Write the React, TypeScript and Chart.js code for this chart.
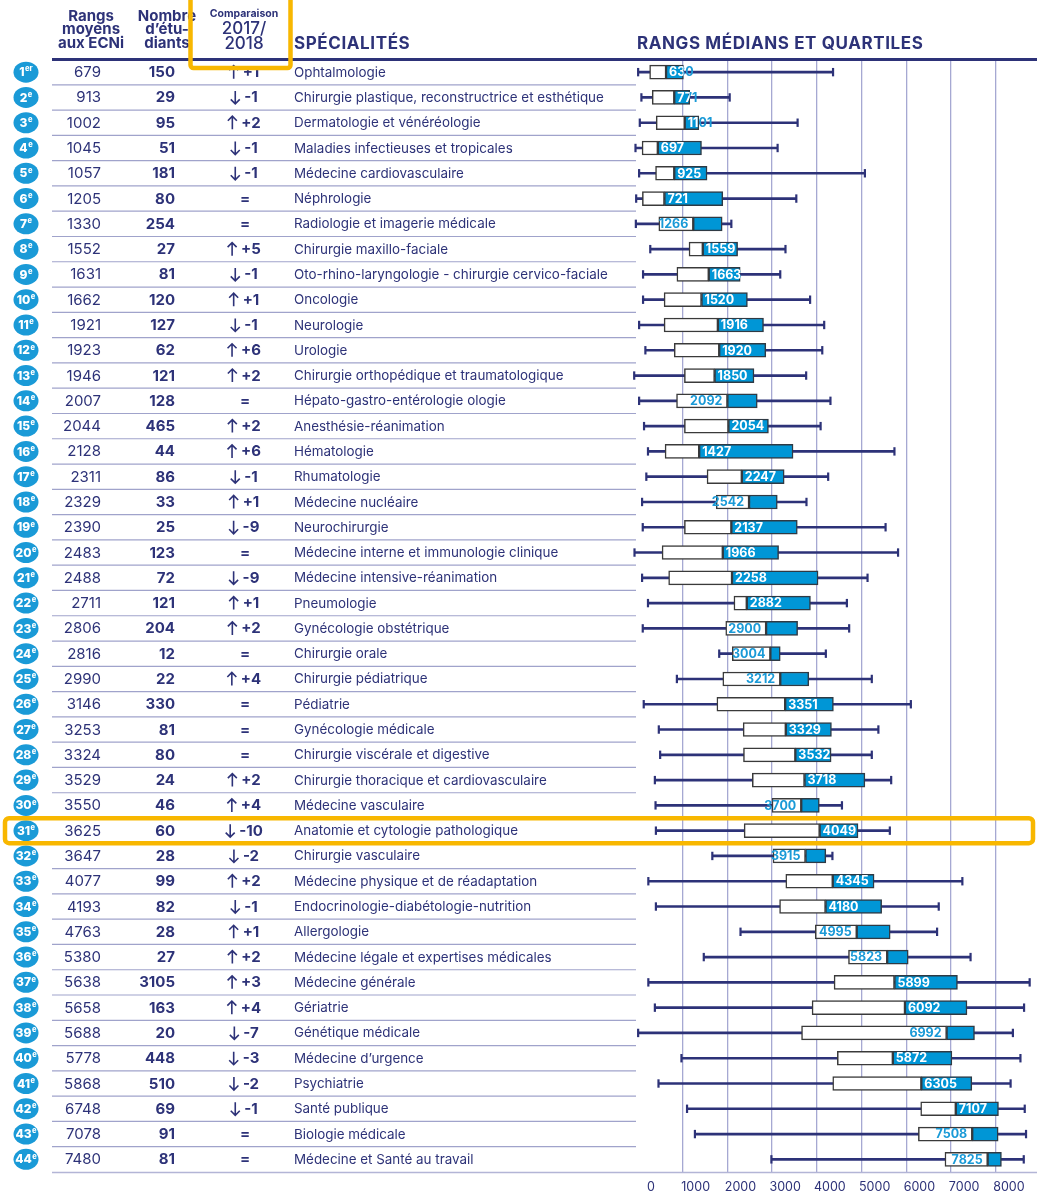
import React, { useEffect, useRef } from 'react';
import { Chart, registerables } from 'chart.js';

Chart.register(...registerables);

// ---------- DATA ----------
const specialties = [
  'Ophtalmologie',
  'Chirurgie plastique, reconstructrice et esthétique',
  'Dermatologie et vénéréologie',
  'Maladies infectieuses et tropicales',
  'Médecine cardiovasculaire',
  'Néphrologie',
  'Radiologie et imagerie médicale',
  'Chirurgie maxillo-faciale',
  'Oto-rhino-laryngologie - chirurgie cervico-faciale',
  'Oncologie',
  'Neurologie',
  'Urologie',
  'Chirurgie orthopédique et traumatologique',
  'Hépato-gastro-entérologie ologie',
  'Anesthésie-réanimation',
  'Hématologie',
  'Rhumatologie',
  'Médecine nucléaire',
  'Neurochirurgie',
  'Médecine interne et immunologie clinique',
  'Médecine intensive-réanimation',
  'Pneumologie',
  'Gynécologie obstétrique',
  'Chirurgie orale',
  'Chirurgie pédiatrique',
  'Pédiatrie',
  'Gynécologie médicale',
  'Chirurgie viscérale et digestive',
  'Chirurgie thoracique et cardiovasculaire',
  'Médecine vasculaire',
  'Anatomie et cytologie pathologique',
  'Chirurgie vasculaire',
  'Médecine physique et de réadaptation',
  'Endocrinologie-diabétologie-nutrition',
  'Allergologie',
  'Médecine légale et expertises médicales',
  'Médecine générale',
  'Gériatrie',
  'Génétique médicale',
  'Médecine d’urgence',
  'Psychiatrie',
  'Santé publique',
  'Biologie médicale',
  'Médecine et Santé au travail',
];

const averageRanks = [679, 913, 1002, 1045, 1057, 1205, 1330, 1552, 1631, 1662, 1921, 1923, 1946, 2007, 2044, 2128, 2311, 2329, 2390, 2483, 2488, 2711, 2806, 2816, 2990, 3146, 3253, 3324, 3529, 3550, 3625, 3647, 4077, 4193, 4763, 5380, 5638, 5658, 5688, 5778, 5868, 6748, 7078, 7480];

const studentCounts = [150, 29, 95, 51, 181, 80, 254, 27, 81, 120, 127, 62, 121, 128, 465, 44, 86, 33, 25, 123, 72, 121, 204, 12, 22, 330, 81, 80, 24, 46, 60, 28, 99, 82, 28, 27, 3105, 163, 20, 448, 510, 69, 91, 81];

// change of position 2017 -> 2018 (0 = "=")
const rankChanges = [1, -1, 2, -1, -1, 0, 0, 5, -1, 1, -1, 6, 2, 0, 2, 6, -1, 1, -9, 0, -9, 1, 2, 0, 4, 0, 0, 0, 2, 4, -10, -2, 2, -1, 1, 2, 3, 4, -7, -3, -2, -1, 0, 0];

const whiskerMin = [5, 78, 42, -54, 27, -39, -46, 276, 115, 115, 27, 167, -83, 27, 137, 225, 188, 93, 108, -76, 93, 225, 108, 1817, 871, 130, 467, 497, 379, 394, 402, 1663, 233, 402, 2293, 1472, 233, 379, 5, 973, 460, 1098, 1274, 2983];
const quartile1 = [262, 320, 409, 93, 394, 100, 467, 1142, 871, 585, 585, 812, 1039, 863, 1039, 607, 1545, 1750, 1039, 540, 687, 2146, 1963, 2110, 1897, 1765, 2352, 2359, 2557, 2997, 2374, 3019, 3305, 3166, 3965, 4706, 4384, 3892, 3657, 4457, 4354, 6320, 6268, 6862];
const medianRank = [629, 812, 1046, 445, 812, 592, 1237, 1450, 1583, 1421, 1787, 1817, 1714, 2000, 2022, 1369, 2322, 2484, 2088, 1897, 2103, 2433, 2865, 2960, 3181, 3291, 3305, 3518, 3723, 3650, 4061, 3745, 4354, 4193, 4890, 5571, 5733, 5968, 6899, 5697, 6334, 7104, 7471, 7816];
const quartile3 = [1017, 1157, 1362, 1421, 1545, 1897, 1883, 2228, 2286, 2447, 2807, 2858, 2594, 2667, 2917, 3467, 3269, 3115, 3562, 3144, 4026, 3856, 3569, 3181, 3819, 4369, 4325, 4318, 5073, 4054, 4919, 4200, 5278, 5447, 5638, 6041, 7141, 7354, 7522, 7017, 7463, 8058, 8051, 8124];
const whiskerMax = [4361, 2051, 3569, 3122, 5073, 3540, 2088, 3298, 3181, 3848, 4163, 4120, 3760, 4303, 4083, 5733, 4252, 3767, 5535, 5814, 5132, 4670, 4721, 4200, 5227, 6100, 5374, 5227, 5660, 4560, 5630, 4347, 7251, 6723, 6686, 7434, 8755, 8630, 8380, 8549, 8329, 8645, 8674, 8623];

const medianLabels = [630, 771, 1101, 697, 925, 721, 1266, 1559, 1663, 1520, 1916, 1920, 1850, 2092, 2054, 1427, 2247, 2542, 2137, 1966, 2258, 2882, 2900, 3004, 3212, 3351, 3329, 3532, 3718, 3700, 4049, 3915, 4345, 4180, 4995, 5823, 5899, 6092, 6992, 5872, 6305, 7107, 7508, 7825];
// which half of the box holds the printed median: 'b' = blue half, 'w' = white half
const medianLabelSide = ['b','b','b','b','b','b','w','b','b','b','b','b','b','w','b','b','b','w','b','b','b','b','w','w','w','b','b','b','b','w','b','w','b','b','w','w','b','b','w','b','b','b','w','w'];

const xTickValues = [0, 1000, 2000, 3000, 4000, 5000, 6000, 7000, 8000];

// ---------- STYLE ----------
const FONT = 'Inter, "Open Sans", Lato, sans-serif';
const NAVY = '#2d3278';
const CYAN = '#1a9ad7';
const BLUE = '#0096d6';
const ORANGE = '#f8b700';
const HIGHLIGHT_ROW = 30;

const n = specialties.length;

const tablePlugin = {
  id: 'tablePlugin',
  afterDatasetsDraw(chart: any) {
    const ctx = chart.ctx as CanvasRenderingContext2D;
    const xs = chart.scales.x;
    const ys = chart.scales.y;
    ctx.save();
    ctx.font = `700 12.5px ${FONT}`;
    ctx.textBaseline = 'middle';
    for (let i = 0; i < n; i++) {
      const y = ys.getPixelForValue(i);
      const pm = xs.getPixelForValue(medianRank[i]);
      const p3 = xs.getPixelForValue(quartile3[i]);
      const txt = String(medianLabels[i]);
      const tw = ctx.measureText(txt).width;
      const tx = medianLabelSide[i] === 'w' ? pm - 5 - tw : pm + 3;
      ctx.textAlign = 'left';
      ctx.fillStyle = CYAN;
      ctx.fillText(txt, tx, y + 0.5);
      ctx.save();
      ctx.beginPath();
      ctx.rect(pm, y - 7, p3 - pm, 14);
      ctx.clip();
      ctx.fillStyle = '#ffffff';
      ctx.fillText(txt, tx, y + 0.5);
      ctx.restore();
    }
    ctx.restore();
  },
  afterDraw(chart: any) {
    const ctx = chart.ctx as any;
    const ys = chart.scales.y;
    const area = chart.chartArea;
    const line = (x1: number, y1: number, x2: number, y2: number) => {
      ctx.beginPath();
      ctx.moveTo(x1, y1);
      ctx.lineTo(x2, y2);
      ctx.stroke();
    };
    ctx.save();
    // row separators
    ctx.strokeStyle = '#a0a3cb';
    ctx.lineWidth = 1.2;
    for (let i = 0; i < n - 1; i++) {
      const yb = (ys.getPixelForValue(i) + ys.getPixelForValue(i + 1)) / 2;
      line(52, yb, 636, yb);
    }
    ctx.strokeStyle = '#b3b5d6';
    ctx.lineWidth = 1.5;
    line(52, area.bottom + 0.5, 1037, area.bottom + 0.5);
    ctx.strokeStyle = NAVY;
    ctx.lineWidth = 3;
    line(52, area.top, 1037, area.top);

    // header
    ctx.fillStyle = NAVY;
    ctx.textBaseline = 'alphabetic';
    ctx.textAlign = 'center';
    ctx.font = `700 15px ${FONT}`;
    ctx.fillText('Rangs', 91, 20.5);
    ctx.fillText('moyens', 91, 34);
    ctx.fillText('aux ECNi', 91, 47.5);
    ctx.fillText('Nombre', 167, 20.5);
    ctx.fillText('d’étu-', 167, 34);
    ctx.fillText('diants', 167, 47.5);
    ctx.font = `700 10.5px ${FONT}`;
    ctx.fillText('Comparaison', 244, 17);
    ctx.font = `500 17px ${FONT}`;
    ctx.fillText('2017/', 244, 33.5);
    ctx.fillText('2018', 244, 49);
    ctx.textAlign = 'left';
    ctx.font = `700 17px ${FONT}`;
    if ('letterSpacing' in ctx) ctx.letterSpacing = '0.6px';
    ctx.fillText('SPÉCIALITÉS', 294, 49);
    ctx.fillText('RANGS MÉDIANS ET QUARTILES', 637, 49);
    if ('letterSpacing' in ctx) ctx.letterSpacing = '0px';

    // rows
    for (let i = 0; i < n; i++) {
      const y = ys.getPixelForValue(i);
      // badge
      ctx.fillStyle = CYAN;
      ctx.beginPath();
      ctx.ellipse(26, y, 12.5, 10.5, 0, 0, Math.PI * 2);
      ctx.fill();
      ctx.fillStyle = '#ffffff';
      const num = String(i + 1);
      const sup = i === 0 ? 'er' : 'e';
      ctx.font = `800 12px ${FONT}`;
      const nw = ctx.measureText(num).width;
      ctx.font = `800 7.5px ${FONT}`;
      const sw = ctx.measureText(sup).width;
      const bx = 26 - (nw + sw + 0.5) / 2;
      ctx.textAlign = 'left';
      ctx.textBaseline = 'middle';
      ctx.font = `800 12px ${FONT}`;
      ctx.fillText(num, bx, y + 0.5);
      ctx.font = `800 7.5px ${FONT}`;
      ctx.fillText(sup, bx + nw + 0.5, y - 3);

      ctx.fillStyle = NAVY;
      ctx.textAlign = 'right';
      ctx.font = `400 15px ${FONT}`;
      ctx.fillText(String(averageRanks[i]), 101, y + 0.5);
      ctx.font = `700 15px ${FONT}`;
      ctx.fillText(String(studentCounts[i]), 175, y + 0.5);

      // comparison
      const c = rankChanges[i];
      ctx.textAlign = 'left';
      if (c === 0) {
        ctx.textAlign = 'center';
        ctx.fillText('=', 245, y + 0.5);
      } else {
        const t = (c > 0 ? '+' : '-') + Math.abs(c);
        const tw = ctx.measureText(t).width;
        const aw = 10;
        const gap = 4;
        const sx = 244 - (aw + gap + tw) / 2;
        const ax = sx + aw / 2;
        ctx.strokeStyle = NAVY;
        ctx.lineWidth = 1.6;
        ctx.beginPath();
        ctx.moveTo(ax, y - 6.5);
        ctx.lineTo(ax, y + 6.5);
        if (c > 0) {
          ctx.moveTo(ax - 4.5, y - 2);
          ctx.lineTo(ax, y - 6.5);
          ctx.lineTo(ax + 4.5, y - 2);
        } else {
          ctx.moveTo(ax - 4.5, y + 2);
          ctx.lineTo(ax, y + 6.5);
          ctx.lineTo(ax + 4.5, y + 2);
        }
        ctx.stroke();
        ctx.fillText(t, sx + aw + gap, y + 0.5);
      }

      ctx.textAlign = 'left';
      ctx.font = `400 13.4px ${FONT}`;
      ctx.fillText(specialties[i], 294, y + 0.5);
    }

    // highlight boxes
    ctx.strokeStyle = ORANGE;
    ctx.lineWidth = 4.5;
    ctx.beginPath();
    ctx.roundRect(190.5, -10, 100, 78, 3);
    ctx.stroke();
    const yh = ys.getPixelForValue(HIGHLIGHT_ROW);
    ctx.beginPath();
    ctx.roundRect(5, yh - 12.5, 1028, 25, 4);
    ctx.stroke();
    ctx.restore();
  },
};

export default function App() {
  const ref = useRef<HTMLCanvasElement>(null);
  useEffect(() => {
    document.body.style.margin = '0';
    const capPoints = [
      ...whiskerMin.map((v, i) => ({ x: v, y: specialties[i] })),
      ...whiskerMax.map((v, i) => ({ x: v, y: specialties[i] })),
    ];
    const chart = new Chart(ref.current as HTMLCanvasElement, {
      type: 'bar',
      data: {
        labels: specialties,
        datasets: [
          {
            type: 'bar',
            label: 'Q1 – médiane',
            data: quartile1.map((v, i) => [v, medianRank[i]]),
            backgroundColor: '#ffffff',
            borderColor: '#3a3a3a',
            borderWidth: 1.5,
            borderSkipped: false,
            barThickness: 14,
            grouped: false,
            order: 1,
          },
          {
            type: 'bar',
            label: 'médiane – Q3',
            data: medianRank.map((v, i) => [v, quartile3[i]]),
            backgroundColor: BLUE,
            borderColor: '#2f3a44',
            borderWidth: 1.5,
            borderSkipped: false,
            barThickness: 14,
            grouped: false,
            order: 1,
          },
          {
            type: 'scatter',
            label: 'extrémités',
            data: capPoints,
            pointStyle: 'line',
            rotation: 90,
            radius: 4.2,
            borderColor: NAVY,
            borderWidth: 2.2,
            clip: false,
            order: 2,
          },
          {
            type: 'bar',
            label: 'étendue',
            data: whiskerMin.map((v, i) => [v, whiskerMax[i]]),
            backgroundColor: NAVY,
            barThickness: 2,
            grouped: false,
            order: 3,
          },
        ],
      } as any,
      options: {
        indexAxis: 'y',
        animation: false,
        responsive: false,
        devicePixelRatio: 1,
        events: [],
        layout: { padding: { left: 631.2, right: 0, top: 59.5, bottom: 0 } },
        plugins: { legend: { display: false }, tooltip: { enabled: false } },
        scales: {
          y: {
            type: 'category',
            display: false,
            offset: true,
            grid: { display: false },
          },
          x: {
            type: 'linear',
            position: 'bottom',
            min: -150,
            max: 8776,
            border: { display: false },
            grid: {
              color: (c: any) => (c.tick && c.tick.value === 0 ? 'rgba(0,0,0,0)' : '#a6a8d2'),
              lineWidth: 1.3,
              drawTicks: false,
            },
            ticks: {
              color: NAVY,
              font: { family: FONT, size: 12.5 },
              padding: 8,
              labelOffset: 13,
              maxRotation: 0,
              autoSkip: false,
              callback: (v: any) => String(v),
            },
            afterBuildTicks: (axis: any) => {
              axis.ticks = xTickValues.map((v) => ({ value: v }));
            },
            afterFit: (axis: any) => {
              axis.height = 21;
            },
          },
        },
      } as any,
      plugins: [tablePlugin],
    });
    return () => chart.destroy();
  }, []);
  return (
    <div style={{ width: 1037, height: 1193 }}>
      <canvas ref={ref} width={1037} height={1193} style={{ display: 'block' }} />
    </div>
  );
}
